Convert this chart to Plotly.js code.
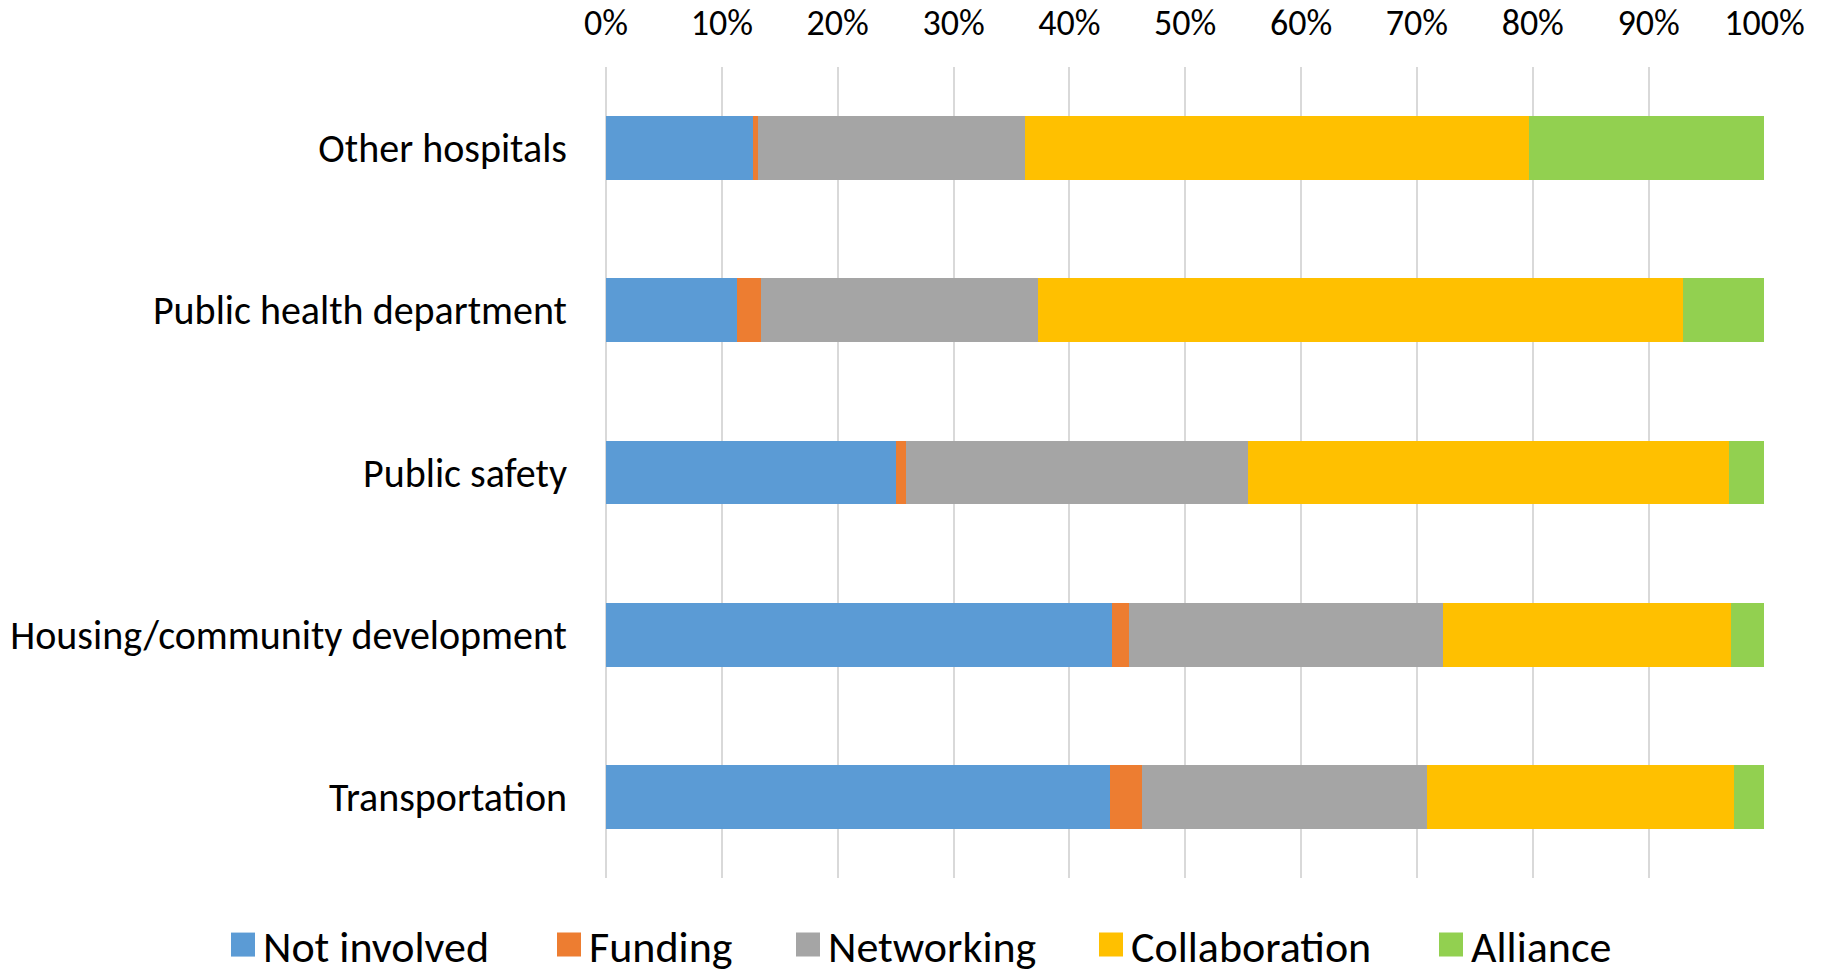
<!DOCTYPE html>
<html>
<head>
<meta charset="utf-8">
<script src="https://cdn.plot.ly/plotly-3.0.1.min.js"></script>
<style>html,body{margin:0;padding:0;background:#fff;}#chart{width:1823px;height:973px;}</style>
</head>
<body>
<div id="chart"></div>
<script>
const categories = ["Other hospitals", "Public health department", "Public safety", "Housing/community development", "Transportation"];
const seriesNames = ["Not involved", "Funding", "Networking", "Collaboration", "Alliance"];
const notInvolved = [0.1266, 0.1129, 0.2505, 0.4367, 0.4353];
const funding = [0.0048, 0.0205, 0.0089, 0.0150, 0.0274];
const networking = [0.2300, 0.2395, 0.2950, 0.2710, 0.2457];
const collaboration = [0.4353, 0.5572, 0.4148, 0.2485, 0.2656];
const alliance = [0.2033, 0.0698, 0.0308, 0.0287, 0.0260];
const colors = ["#5B9BD5", "#ED7D31", "#A5A5A5", "#FFC000", "#92D050"];
const tickVals = [0, 0.1, 0.2, 0.3, 0.4, 0.5, 0.6, 0.7, 0.8, 0.9, 1.0];
const tickText = ["0%", "10%", "20%", "30%", "40%", "50%", "60%", "70%", "80%", "90%", "100%"];
// left edge (px) of each legend entry in the picture
const legendLeft = [223, 549, 788, 1091, 1431];

const seriesValues = [notInvolved, funding, networking, collaboration, alliance];
const FONT = "Calibri, Carlito, Lato, sans-serif";
const legendIds = ["legend", "legend2", "legend3", "legend4", "legend5"];

const data = seriesValues.map((vals, i) => ({
  type: "bar",
  orientation: "h",
  name: seriesNames[i],
  x: vals,
  y: categories,
  legend: legendIds[i],
  marker: {color: colors[i], line: {width: 0}},
  hoverinfo: "x+y+name"
}));

const layout = {
  width: 1823,
  height: 973,
  barmode: "stack",
  bargap: 0.606,
  paper_bgcolor: "#ffffff",
  plot_bgcolor: "#ffffff",
  font: {family: FONT, size: 30, color: "#000000"},
  margin: {l: 606, r: 58, t: 67, b: 95, pad: 0},
  xaxis: {
    side: "top",
    range: [0, 1.0005],
    tickvals: tickVals,
    ticktext: tickText,
    showgrid: true,
    gridcolor: "#D9D9D9",
    gridwidth: 2,
    zeroline: true,
    zerolinecolor: "#D9D9D9",
    zerolinewidth: 2,
    showline: false,
    ticks: "",
    ticklabelstandoff: 24,
    tickfont: {family: FONT, size: 36, color: "#000000"},
    fixedrange: true
  },
  yaxis: {
    autorange: "reversed",
    showgrid: false,
    zeroline: false,
    showline: false,
    ticks: "",
    ticklabelstandoff: 38,
    tickfont: {family: FONT, size: 40, color: "#000000"},
    fixedrange: true
  },
  showlegend: true
};

legendIds.forEach((id, i) => {
  layout[id] = {
    orientation: "h",
    xref: "container",
    yref: "container",
    x: legendLeft[i] / 1823,
    xanchor: "left",
    y: 0.0288,
    yanchor: "middle",
    maxheight: 200,
    bgcolor: "rgba(0,0,0,0)",
    font: {family: FONT, size: 44, color: "#000000"},
    itemwidth: 30
  };
});

function tidyLegend(gd) {
  gd.querySelectorAll(".legendpoints path").forEach(p => {
    if (p.dataset.big) return;
    const b = p.getBBox();
    const cx = b.x + b.width / 2, cy = b.y + b.height / 2;
    const t = p.getAttribute("transform") || "";
    p.setAttribute("transform", t + ` translate(${cx},${cy}) scale(2) translate(${-cx},${-cy})`);
    p.dataset.big = "1";
  });
  gd.querySelectorAll(".legend [clip-path]").forEach(el => el.removeAttribute("clip-path"));
  gd.querySelectorAll(".legend .scrollbar").forEach(el => el.style.display = "none");
}

Plotly.newPlot("chart", data, layout, {displayModeBar: false, staticPlot: true}).then(gd => {
  tidyLegend(gd);
});
</script>
</body>
</html>
